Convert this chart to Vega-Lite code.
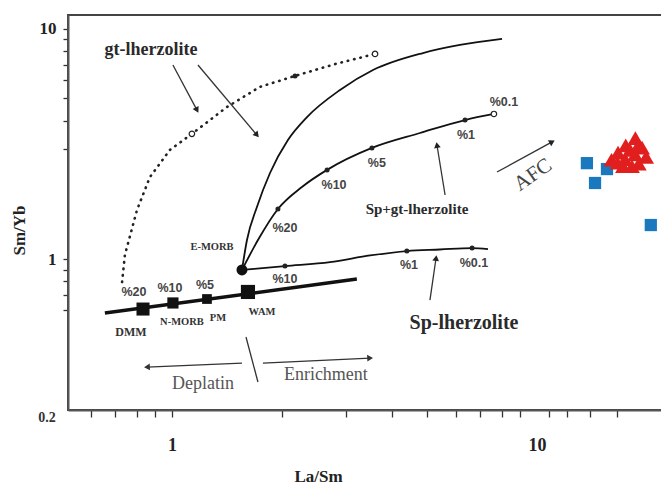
{
  "$schema": "https://vega.github.io/schema/vega-lite/v6.json",
  "width": 594,
  "height": 395,
  "autosize": {"type": "none"},
  "padding": {"left": 68, "top": 15, "right": 0, "bottom": 76},
  "background": "white",
  "config": {"view": {"stroke": "#444", "strokeWidth": 2}, "font": "Liberation Serif"},
  "datasets": {
    "curves": [
      {"curve": "mix", "i": 0, "x": 0.655, "y": 0.582},
      {"curve": "mix", "i": 1, "x": 3.21, "y": 0.818},
      {"curve": "sp", "i": 0, "x": 1.555, "y": 0.896},
      {"curve": "sp", "i": 1, "x": 2.04, "y": 0.932},
      {"curve": "sp", "i": 2, "x": 2.71, "y": 0.970},
      {"curve": "sp", "i": 3, "x": 3.49, "y": 1.036},
      {"curve": "sp", "i": 4, "x": 4.40, "y": 1.083},
      {"curve": "sp", "i": 5, "x": 5.42, "y": 1.100},
      {"curve": "sp", "i": 6, "x": 6.64, "y": 1.116},
      {"curve": "sp", "i": 7, "x": 7.34, "y": 1.105},
      {"curve": "spgt", "i": 0, "x": 1.555, "y": 0.896},
      {"curve": "spgt", "i": 1, "x": 1.72, "y": 1.209},
      {"curve": "spgt", "i": 2, "x": 1.951, "y": 1.650},
      {"curve": "spgt", "i": 3, "x": 2.27, "y": 2.056},
      {"curve": "spgt", "i": 4, "x": 2.66, "y": 2.44},
      {"curve": "spgt", "i": 5, "x": 3.53, "y": 3.04},
      {"curve": "spgt", "i": 6, "x": 4.78, "y": 3.53},
      {"curve": "spgt", "i": 7, "x": 6.35, "y": 4.02},
      {"curve": "spgt", "i": 8, "x": 7.62, "y": 4.27},
      {"curve": "gt", "i": 0, "x": 1.555, "y": 0.896},
      {"curve": "gt", "i": 1, "x": 1.605, "y": 1.209},
      {"curve": "gt", "i": 2, "x": 1.709, "y": 1.683},
      {"curve": "gt", "i": 3, "x": 1.856, "y": 2.365},
      {"curve": "gt", "i": 4, "x": 2.078, "y": 3.29},
      {"curve": "gt", "i": 5, "x": 2.344, "y": 4.14},
      {"curve": "gt", "i": 6, "x": 2.886, "y": 5.43},
      {"curve": "gt", "i": 7, "x": 3.554, "y": 6.63},
      {"curve": "gt", "i": 8, "x": 4.87, "y": 7.86},
      {"curve": "gt", "i": 9, "x": 6.15, "y": 8.52},
      {"curve": "gt", "i": 10, "x": 8.02, "y": 9.05},
      {"curve": "dotted", "i": 0, "x": 0.730, "y": 0.794},
      {"curve": "dotted", "i": 1, "x": 0.743, "y": 1.041},
      {"curve": "dotted", "i": 2, "x": 0.802, "y": 1.633},
      {"curve": "dotted", "i": 3, "x": 0.870, "y": 2.27},
      {"curve": "dotted", "i": 4, "x": 0.987, "y": 2.98},
      {"curve": "dotted", "i": 5, "x": 1.134, "y": 3.50},
      {"curve": "dotted", "i": 6, "x": 1.415, "y": 4.58},
      {"curve": "dotted", "i": 7, "x": 1.742, "y": 5.60},
      {"curve": "dotted", "i": 8, "x": 2.173, "y": 6.25},
      {"curve": "dotted", "i": 9, "x": 2.80, "y": 7.04},
      {"curve": "dotted", "i": 10, "x": 3.60, "y": 7.79}
    ],
    "dots": [
      {"kind": "filled", "x": 2.04, "y": 0.932},
      {"kind": "filled", "x": 4.40, "y": 1.083},
      {"kind": "filled", "x": 6.64, "y": 1.116},
      {"kind": "filled", "x": 1.951, "y": 1.650},
      {"kind": "filled", "x": 2.66, "y": 2.44},
      {"kind": "filled", "x": 3.53, "y": 3.04},
      {"kind": "filled", "x": 6.35, "y": 4.02},
      {"kind": "filled", "x": 2.173, "y": 6.25},
      {"kind": "open", "x": 7.62, "y": 4.27},
      {"kind": "open", "x": 1.134, "y": 3.50},
      {"kind": "open", "x": 3.60, "y": 7.79}
    ],
    "sources": [
      {"name": "DMM", "x": 0.833, "y": 0.606},
      {"name": "N-MORB", "x": 1.006, "y": 0.644},
      {"name": "PM", "x": 1.247, "y": 0.670},
      {"name": "WAM", "x": 1.615, "y": 0.719},
      {"name": "E-MORB", "x": 1.555, "y": 0.896}
    ],
    "samples": [
      {"group": "blue", "x": 13.7, "y": 2.61},
      {"group": "blue", "x": 15.55, "y": 2.46},
      {"group": "blue", "x": 14.42, "y": 2.14},
      {"group": "blue", "x": 20.5, "y": 1.405},
      {"group": "red", "x": 16.0, "y": 2.70},
      {"group": "red", "x": 16.67, "y": 2.90},
      {"group": "red", "x": 17.5, "y": 3.12},
      {"group": "red", "x": 18.6, "y": 3.35},
      {"group": "red", "x": 19.4, "y": 3.05},
      {"group": "red", "x": 19.9, "y": 2.78},
      {"group": "red", "x": 18.56, "y": 2.85},
      {"group": "red", "x": 17.42, "y": 2.72},
      {"group": "red", "x": 19.0, "y": 2.60},
      {"group": "red", "x": 17.2, "y": 2.53},
      {"group": "red", "x": 18.2, "y": 2.53},
      {"group": "red", "x": 16.6, "y": 2.62},
      {"group": "red", "x": 17.98, "y": 2.98},
      {"group": "red", "x": 18.9, "y": 3.10}
    ],
    "arrows": [
      {"arrow": "deplete", "i": 0, "x": 1.555, "y": 0.353},
      {"arrow": "deplete", "i": 1, "x": 0.854, "y": 0.339},
      {"arrow": "enrich", "i": 0, "x": 1.775, "y": 0.353},
      {"arrow": "enrich", "i": 1, "x": 3.49, "y": 0.371},
      {"arrow": "slash", "i": 0, "x": 1.595, "y": 0.458},
      {"arrow": "slash", "i": 1, "x": 1.720, "y": 0.292},
      {"arrow": "gt1", "i": 0, "x": 1.006, "y": 6.97},
      {"arrow": "gt1", "i": 1, "x": 1.171, "y": 4.44},
      {"arrow": "gt2", "i": 0, "x": 1.178, "y": 6.97},
      {"arrow": "gt2", "i": 1, "x": 1.709, "y": 3.46},
      {"arrow": "spgt", "i": 0, "x": 5.60, "y": 1.898},
      {"arrow": "spgt", "i": 1, "x": 5.32, "y": 3.13},
      {"arrow": "sp", "i": 0, "x": 5.09, "y": 0.663},
      {"arrow": "sp", "i": 1, "x": 5.29, "y": 1.010},
      {"arrow": "afc", "i": 0, "x": 7.77, "y": 2.389},
      {"arrow": "afc", "i": 1, "x": 11.0, "y": 3.23}
    ],
    "texts": [
      {"group": "name", "label": "gt-lherzolite", "x": 0.876, "y": 8.10},
      {"group": "name2", "label": "Sp+gt-lherzolite", "x": 4.69, "y": 1.65},
      {"group": "name3", "label": "Sp-lherzolite", "x": 6.31, "y": 0.527},
      {"group": "pct", "label": "%20", "x": 0.787, "y": 0.719},
      {"group": "pct", "label": "%10", "x": 0.987, "y": 0.748},
      {"group": "pct", "label": "%5", "x": 1.231, "y": 0.771},
      {"group": "pct", "label": "%10", "x": 2.04, "y": 0.818},
      {"group": "pct", "label": "%1", "x": 4.46, "y": 0.942},
      {"group": "pct", "label": "%0.1", "x": 6.72, "y": 0.961},
      {"group": "pct", "label": "%20", "x": 2.04, "y": 1.364},
      {"group": "pct", "label": "%10", "x": 2.78, "y": 2.10},
      {"group": "pct", "label": "%5", "x": 3.64, "y": 2.61},
      {"group": "pct", "label": "%1", "x": 6.39, "y": 3.46},
      {"group": "pct", "label": "%0.1", "x": 8.12, "y": 4.82},
      {"group": "src1", "label": "DMM", "x": 0.772, "y": 0.482},
      {"group": "src", "label": "N-MORB", "x": 1.065, "y": 0.532},
      {"group": "src", "label": "PM", "x": 1.337, "y": 0.554},
      {"group": "src", "label": "WAM", "x": 1.765, "y": 0.588},
      {"group": "src", "label": "E-MORB", "x": 1.287, "y": 1.128},
      {"group": "proc", "label": "Deplatin", "x": 1.216, "y": 0.286},
      {"group": "proc", "label": "Enrichment", "x": 2.64, "y": 0.313},
      {"group": "afc", "label": "AFC", "x": 9.75, "y": 2.32},
      {"group": "ylab", "label": "0.2", "x": 0.4546, "y": 0.2035}
    ]
  },
  "encoding": {
    "x": {
      "field": "x", "type": "quantitative", "title": "La/Sm",
      "scale": {"type": "log", "domain": [0.519, 22.0], "nice": false},
      "axis": {
        "values": [0.6, 0.7, 0.8, 0.9, 1, 2, 3, 4, 5, 6, 7, 8, 9, 10, 10.8, 12.1, 14, 16.6],
        "labelExpr": "datum.value == 1 ? '1' : datum.value == 10 ? '10' : ''",
        "tickOpacity": {"condition": {"test": "datum.value == 10", "value": 0}, "value": 1},
        "tickSize": 7, "tickWidth": 1.3, "tickColor": "#333",
        "domainColor": "#555", "domainWidth": 2, "grid": false,
        "labelFont": "Liberation Serif", "labelFontWeight": "bold", "labelFontSize": 18,
        "labelColor": "#222", "labelPadding": 19, "labelFlush": false, "labelOverlap": false, "labelBound": false,
        "titleFont": "Liberation Serif", "titleFontWeight": "bold", "titleFontSize": 17, "titleColor": "#222",
        "titleX": 250, "titleY": 66, "titleBaseline": "middle", "titleAlign": "center"
      }
    },
    "y": {
      "field": "y", "type": "quantitative", "title": "Sm/Yb",
      "scale": {"type": "log", "domain": [0.2206, 11.5], "nice": false},
      "axis": {
        "values": [0.6, 0.7, 0.8, 0.9, 1, 3, 4, 5, 6, 7, 8, 9, 10],
        "labelExpr": "datum.value == 1 ? '1' : datum.value == 10 ? '10' : ''",
        "labelFontSize": 17,
        "tickSize": 5, "tickWidth": 1.3, "tickColor": "#333",
        "domainColor": "#555", "domainWidth": 2, "grid": false,
        "labelFont": "Liberation Serif", "labelFontWeight": "bold", "labelColor": "#222",
        "labelPadding": 7, "labelAlign": "right", "labelFlush": false, "labelOverlap": false, "labelBound": false,
        "titleFont": "Liberation Serif", "titleFontWeight": "bold", "titleFontSize": 17, "titleColor": "#222",
        "titleX": -49, "titleY": 215, "titleBaseline": "middle", "titleAlign": "center", "titleAngle": -90
      }
    }
  },
  "layer": [
    {
      "data": {"name": "curves"},
      "transform": [{"filter": "datum.curve == 'dotted'"}],
      "mark": {"type": "line", "color": "#222", "strokeWidth": 2.6, "strokeDash": [0.5, 6], "strokeCap": "round"},
      "encoding": {"order": {"field": "i", "type": "quantitative"}}
    },
    {
      "data": {"name": "curves"},
      "transform": [{"filter": "datum.curve == 'sp' || datum.curve == 'spgt' || datum.curve == 'gt'"}],
      "mark": {"type": "line", "color": "#111", "strokeWidth": 1.8, "interpolate": "monotone"},
      "encoding": {"detail": {"field": "curve"}, "order": {"field": "i", "type": "quantitative"}}
    },
    {
      "data": {"name": "curves"},
      "transform": [{"filter": "datum.curve == 'mix'"}],
      "mark": {"type": "line", "color": "#111", "strokeWidth": 3.5},
      "encoding": {"order": {"field": "i", "type": "quantitative"}}
    },
    {
      "data": {"name": "arrows"},
      "mark": {"type": "line", "color": "#333", "strokeWidth": 1.3},
      "encoding": {"detail": {"field": "arrow"}, "order": {"field": "i", "type": "quantitative"}}
    },
    {"data": {"name": "arrows"}, "transform": [{"filter": "datum.i == 1 && datum.arrow == 'deplete'"}],
     "mark": {"type": "point", "shape": "triangle-up", "filled": true, "color": "#333", "size": 45, "opacity": 1, "angle": 268}},
    {"data": {"name": "arrows"}, "transform": [{"filter": "datum.i == 1 && datum.arrow == 'enrich'"}],
     "mark": {"type": "point", "shape": "triangle-up", "filled": true, "color": "#333", "size": 45, "opacity": 1, "angle": 87}},
    {"data": {"name": "arrows"}, "transform": [{"filter": "datum.i == 1 && datum.arrow == 'gt1'"}],
     "mark": {"type": "point", "shape": "triangle-up", "filled": true, "color": "#222", "size": 45, "opacity": 1, "angle": 152}},
    {"data": {"name": "arrows"}, "transform": [{"filter": "datum.i == 1 && datum.arrow == 'gt2'"}],
     "mark": {"type": "point", "shape": "triangle-up", "filled": true, "color": "#222", "size": 45, "opacity": 1, "angle": 140}},
    {"data": {"name": "arrows"}, "transform": [{"filter": "datum.i == 1 && datum.arrow == 'spgt'"}],
     "mark": {"type": "point", "shape": "triangle-up", "filled": true, "color": "#222", "size": 45, "opacity": 1, "angle": 351}},
    {"data": {"name": "arrows"}, "transform": [{"filter": "datum.i == 1 && datum.arrow == 'sp'"}],
     "mark": {"type": "point", "shape": "triangle-up", "filled": true, "color": "#222", "size": 45, "opacity": 1, "angle": 8}},
    {"data": {"name": "arrows"}, "transform": [{"filter": "datum.i == 1 && datum.arrow == 'afc'"}],
     "mark": {"type": "point", "shape": "triangle-up", "filled": true, "color": "#222", "size": 45, "opacity": 1, "angle": 61}},
    {
      "data": {"name": "dots"},
      "transform": [{"filter": "datum.kind == 'filled'"}],
      "mark": {"type": "point", "shape": "circle", "filled": true, "color": "#222", "size": 25, "opacity": 1}
    },
    {
      "data": {"name": "dots"},
      "transform": [{"filter": "datum.kind == 'open'"}],
      "mark": {"type": "point", "shape": "circle", "fill": "white", "stroke": "#222", "strokeWidth": 1.2, "size": 30, "opacity": 1}
    },
    {"data": {"name": "sources"}, "transform": [{"filter": "datum.name == 'DMM'"}],
     "mark": {"type": "point", "shape": "square", "filled": true, "color": "#111", "size": 170, "opacity": 1}},
    {"data": {"name": "sources"}, "transform": [{"filter": "datum.name == 'N-MORB'"}],
     "mark": {"type": "point", "shape": "square", "filled": true, "color": "#111", "size": 125, "opacity": 1}},
    {"data": {"name": "sources"}, "transform": [{"filter": "datum.name == 'PM'"}],
     "mark": {"type": "point", "shape": "square", "filled": true, "color": "#111", "size": 95, "opacity": 1}},
    {"data": {"name": "sources"}, "transform": [{"filter": "datum.name == 'WAM'"}],
     "mark": {"type": "point", "shape": "square", "filled": true, "color": "#111", "size": 200, "opacity": 1}},
    {"data": {"name": "sources"}, "transform": [{"filter": "datum.name == 'E-MORB'"}],
     "mark": {"type": "point", "shape": "circle", "filled": true, "color": "#111", "size": 120, "opacity": 1}},
    {
      "data": {"name": "samples"},
      "transform": [{"filter": "datum.group == 'blue'"}],
      "mark": {"type": "point", "shape": "square", "filled": true, "color": "#1a78be", "size": 150, "opacity": 1}
    },
    {
      "data": {"name": "samples"},
      "transform": [{"filter": "datum.group == 'red'"}],
      "mark": {"type": "point", "shape": "triangle-up", "filled": true, "color": "#e11f1f", "size": 250, "opacity": 1}
    },
    {"data": {"name": "texts"}, "transform": [{"filter": "datum.group == 'name'"}],
     "mark": {"type": "text", "font": "Liberation Serif", "fontWeight": "bold", "fontSize": 18, "color": "#2a2a2a", "align": "center", "baseline": "middle"},
     "encoding": {"text": {"field": "label"}}},
    {"data": {"name": "texts"}, "transform": [{"filter": "datum.group == 'name2'"}],
     "mark": {"type": "text", "font": "Liberation Serif", "fontWeight": "bold", "fontSize": 15, "color": "#2a2a2a", "align": "center", "baseline": "middle"},
     "encoding": {"text": {"field": "label"}}},
    {"data": {"name": "texts"}, "transform": [{"filter": "datum.group == 'name3'"}],
     "mark": {"type": "text", "font": "Liberation Serif", "fontWeight": "bold", "fontSize": 20, "color": "#2a2a2a", "align": "center", "baseline": "middle"},
     "encoding": {"text": {"field": "label"}}},
    {"data": {"name": "texts"}, "transform": [{"filter": "datum.group == 'pct'"}],
     "mark": {"type": "text", "font": "Liberation Sans Narrow, Liberation Sans", "fontWeight": "bold", "fontSize": 12.5, "color": "#444", "align": "center", "baseline": "middle"},
     "encoding": {"text": {"field": "label"}}},
    {"data": {"name": "texts"}, "transform": [{"filter": "datum.group == 'src1'"}],
     "mark": {"type": "text", "font": "Liberation Serif", "fontWeight": "bold", "fontSize": 12, "color": "#333", "align": "center", "baseline": "middle"},
     "encoding": {"text": {"field": "label"}}},
    {"data": {"name": "texts"}, "transform": [{"filter": "datum.group == 'src'"}],
     "mark": {"type": "text", "font": "Liberation Serif", "fontWeight": "bold", "fontSize": 10.5, "color": "#333", "align": "center", "baseline": "middle"},
     "encoding": {"text": {"field": "label"}}},
    {"data": {"name": "texts"}, "transform": [{"filter": "datum.group == 'proc'"}],
     "mark": {"type": "text", "font": "Liberation Serif", "fontSize": 18, "color": "#555", "align": "center", "baseline": "middle"},
     "encoding": {"text": {"field": "label"}}},
    {"data": {"name": "texts"}, "transform": [{"filter": "datum.group == 'afc'"}],
     "mark": {"type": "text", "font": "Liberation Serif", "fontSize": 21, "color": "#444", "align": "center", "baseline": "middle", "angle": -35},
     "encoding": {"text": {"field": "label"}}},
    {"data": {"name": "texts"}, "transform": [{"filter": "datum.group == 'ylab'"}],
     "mark": {"type": "text", "font": "Liberation Serif", "fontWeight": "bold", "fontSize": 14, "color": "#333", "align": "center", "baseline": "middle"},
     "encoding": {"text": {"field": "label"}}}
  ]
}
